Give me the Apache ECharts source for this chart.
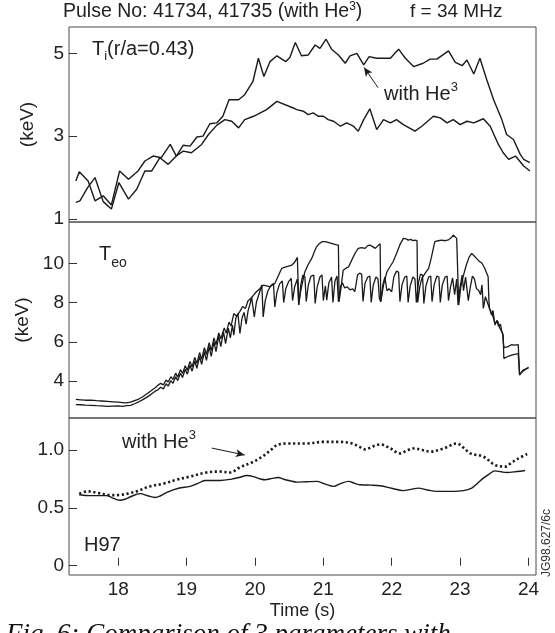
<!DOCTYPE html>
<html>
<head>
<meta charset="utf-8">
<script src="https://cdn.jsdelivr.net/npm/echarts@6/dist/echarts.min.js"></script>
<style>
  html, body { margin: 0; padding: 0; background: #ffffff; overflow: hidden; }
  #chart { width: 555px; height: 633px; }
</style>
</head>
<body>
<div id="chart"></div>
<script>
// ---- Ion temperature Ti(r/a=0.43), keV : [time s, value] ----
const tiWithHe = [
  [17.38,1.40],[17.44,1.44],[17.55,1.75],[17.66,2.00],[17.78,1.42],[17.90,1.24],[18.01,1.88],
  [18.15,1.48],[18.27,1.72],[18.39,2.16],[18.49,2.16],[18.61,2.48],[18.73,2.32],[18.85,2.52],
  [18.95,2.78],[19.05,2.76],[19.15,2.98],[19.24,3.00],[19.34,3.30],[19.44,3.32],[19.53,3.48],
  [19.62,3.88],[19.76,3.88],[19.85,4.00],[19.97,4.32],[20.05,4.88],[20.13,4.44],[20.22,4.80],
  [20.32,4.94],[20.45,4.80],[20.51,4.90],[20.59,5.26],[20.68,4.94],[20.78,4.96],[20.88,5.20],
  [20.95,5.12],[21.04,5.34],[21.12,5.10],[21.22,4.96],[21.32,4.76],[21.39,4.94],[21.49,5.00],
  [21.59,4.72],[21.67,4.92],[21.78,4.88],[21.98,4.88],[22.10,5.10],[22.20,4.88],[22.32,4.68],
  [22.46,4.76],[22.56,4.86],[22.66,4.86],[22.83,5.06],[22.93,4.78],[23.03,4.70],[23.10,4.84],
  [23.20,4.50],[23.29,4.88],[23.39,4.36],[23.49,3.88],[23.61,3.40],[23.68,3.04],[23.78,2.92],
  [23.88,2.56],[23.93,2.44],[24.02,2.36]
];
const tiWithoutHe = [
  [17.38,1.92],[17.43,2.14],[17.56,1.92],[17.66,1.44],[17.78,1.56],[17.90,1.34],[18.02,2.16],
  [18.15,1.96],[18.29,2.16],[18.39,2.40],[18.51,2.52],[18.63,2.48],[18.76,2.80],[18.85,2.52],
  [18.95,2.64],[19.07,2.60],[19.22,2.80],[19.32,3.04],[19.44,3.26],[19.56,3.40],[19.66,3.36],
  [19.76,3.20],[19.85,3.40],[19.98,3.48],[20.17,3.64],[20.32,3.84],[20.56,3.68],[20.61,3.64],
  [20.71,3.60],[20.78,3.52],[20.85,3.56],[20.93,3.48],[21.00,3.48],[21.07,3.40],[21.15,3.36],
  [21.25,3.24],[21.34,3.32],[21.44,3.24],[21.51,3.12],[21.59,3.40],[21.68,3.66],[21.78,3.16],
  [21.88,3.40],[21.98,3.32],[22.07,3.40],[22.17,3.28],[22.34,3.12],[22.44,3.24],[22.61,3.48],
  [22.71,3.44],[22.81,3.32],[22.90,3.40],[23.00,3.28],[23.10,3.36],[23.20,3.32],[23.34,3.42],
  [23.44,3.24],[23.56,2.80],[23.63,2.60],[23.71,2.44],[23.81,2.52],[23.93,2.28],[24.02,2.16]
];

// ---- Central electron temperature Teo, keV : [time s, value] ----
const teWithHe = [
  [17.38,3.06],[17.45,3.04],[17.52,3.02],[17.60,3.03],[17.68,3.00],[17.76,2.98],[17.84,2.96],
  [17.92,2.94],[18.00,2.92],[18.06,2.90],[18.12,2.88],[18.18,2.92],[18.24,3.00],[18.30,3.08],
  [18.36,3.20],[18.42,3.35],[18.48,3.50],[18.54,3.66],[18.58,3.78],[18.62,3.88],[18.66,3.80],
  [18.70,4.05],[18.73,3.95],[18.77,4.22],[18.80,4.08],[18.84,4.40],[18.87,4.20],[18.91,4.58],
  [18.94,4.38],[18.98,4.78],[19.01,4.55],[19.05,5.00],[19.08,4.72],[19.12,5.20],[19.15,4.90],
  [19.19,5.45],[19.22,5.10],[19.26,5.70],[19.29,5.35],[19.33,5.95],[19.36,5.55],[19.40,6.20],
  [19.43,5.85],[19.47,6.45],[19.50,6.15],[19.55,6.70],[19.58,6.45],[19.62,7.00],[19.65,6.80],
  [19.69,7.44],[19.73,7.30],[19.78,7.55],[19.82,7.80],[19.86,7.70],[19.90,8.10],[19.94,8.20],
  [19.98,8.38],[20.02,8.55],[20.07,8.70],[20.12,8.89],[20.17,8.85],[20.22,8.80],[20.29,8.97],
  [20.34,9.35],[20.39,9.74],[20.44,9.80],[20.49,9.85],[20.54,9.91],[20.58,10.05],[20.62,10.30],
  [20.63,10.33],[20.64,7.90],[20.67,8.60],[20.70,9.10],[20.73,9.57],[20.78,9.95],[20.83,10.25],
  [20.87,10.60],[20.90,10.84],[20.94,11.00],[20.98,11.10],[21.03,11.10],[21.08,11.05],[21.13,11.00],
  [21.18,10.95],[21.22,10.93],[21.23,8.04],[21.26,8.80],[21.29,9.65],[21.33,9.75],[21.37,9.82],
  [21.42,10.20],[21.47,10.55],[21.51,10.76],[21.56,10.80],[21.61,10.76],[21.65,10.90],[21.68,10.93],
  [21.72,10.85],[21.76,10.76],[21.80,10.90],[21.83,11.00],[21.84,8.04],[21.88,8.90],[21.93,9.57],
  [21.97,9.80],[22.02,10.08],[22.07,10.50],[22.12,10.95],[22.17,11.27],[22.21,11.25],[22.24,11.18],
  [22.28,11.22],[22.31,11.15],[22.34,11.18],[22.37,11.15],[22.38,8.00],[22.41,8.80],[22.44,9.23],
  [22.49,9.50],[22.54,9.74],[22.58,10.30],[22.63,11.10],[22.68,11.15],[22.73,11.18],[22.78,11.15],
  [22.83,11.20],[22.87,11.30],[22.90,11.44],[22.95,11.27],[22.97,11.20],[22.98,7.87],[23.01,8.80],
  [23.05,9.40],[23.09,9.90],[23.13,10.30],[23.17,10.50],[23.20,10.40],[23.24,10.25],[23.28,10.10],
  [23.32,10.00],[23.36,9.75],[23.41,9.31],[23.42,8.20],[23.43,7.70],[23.47,7.40],[23.51,6.95],
  [23.55,7.05],[23.58,6.70],[23.62,6.45],[23.64,5.70],[23.70,5.75],[23.75,5.85],[23.80,5.83],
  [23.85,5.85],[23.87,4.35],[23.92,4.50],[23.96,4.60],[24.00,4.70]
];
const teWithoutHe = [
  [17.38,2.80],[17.45,2.79],[17.52,2.77],[17.60,2.76],[17.68,2.74],[17.76,2.73],[17.84,2.71],
  [17.92,2.72],[18.00,2.73],[18.06,2.71],[18.12,2.74],[18.18,2.76],[18.24,2.84],[18.30,2.94],
  [18.36,3.05],[18.42,3.18],[18.48,3.32],[18.54,3.48],[18.58,3.55],[18.62,3.68],[18.66,3.60],
  [18.70,3.86],[18.73,3.74],[18.77,4.02],[18.80,3.88],[18.84,4.22],[18.87,4.02],[18.91,4.40],
  [18.94,4.18],[18.98,4.60],[19.01,4.35],[19.05,4.80],[19.08,4.50],[19.12,5.02],[19.15,4.65],
  [19.19,5.25],[19.22,4.85],[19.26,5.50],[19.29,5.05],[19.33,5.75],[19.36,5.25],[19.40,6.00],
  [19.43,5.50],[19.47,6.30],[19.50,5.75],[19.54,6.50],[19.57,5.90],[19.61,6.70],[19.64,6.20],
  [19.67,6.85],[19.69,6.34],[19.72,7.20],[19.75,7.44],[19.78,6.42],[19.81,7.20],[19.84,7.50],
  [19.87,6.90],[19.90,7.60],[19.93,7.95],[19.95,8.29],[19.99,7.27],[20.02,8.00],[20.06,8.45],
  [20.10,8.89],[20.12,7.27],[20.15,8.10],[20.19,8.60],[20.23,8.85],[20.27,8.97],[20.29,7.78],
  [20.32,8.50],[20.36,8.95],[20.40,9.10],[20.42,8.00],[20.45,8.70],[20.49,9.05],[20.53,9.23],
  [20.55,8.10],[20.58,8.80],[20.62,9.20],[20.64,7.87],[20.67,8.90],[20.70,9.40],[20.73,9.30],
  [20.75,8.05],[20.78,8.90],[20.82,9.35],[20.86,9.40],[20.88,7.95],[20.91,8.80],[20.95,9.30],
  [20.98,9.40],[21.00,8.10],[21.03,8.85],[21.05,8.12],[21.08,9.00],[21.12,9.30],[21.14,8.00],
  [21.17,9.10],[21.20,9.35],[21.22,8.04],[21.25,8.80],[21.28,9.00],[21.31,8.75],[21.35,8.80],
  [21.39,8.65],[21.43,8.70],[21.46,8.55],[21.50,9.40],[21.53,9.50],[21.56,9.45],[21.58,8.05],
  [21.61,9.00],[21.65,9.30],[21.68,9.35],[21.70,8.00],[21.73,8.90],[21.77,9.30],[21.80,9.20],
  [21.82,8.20],[21.84,8.04],[21.87,8.90],[21.90,9.30],[21.93,8.60],[21.96,8.70],[22.00,8.55],
  [22.03,9.30],[22.07,9.60],[22.10,9.55],[22.12,8.05],[22.15,8.90],[22.19,9.30],[22.22,9.35],
  [22.24,8.00],[22.27,8.85],[22.31,9.30],[22.34,9.20],[22.36,8.00],[22.39,9.00],[22.42,9.45],
  [22.45,9.40],[22.47,7.95],[22.50,8.85],[22.54,9.30],[22.57,9.35],[22.59,8.05],[22.62,8.90],
  [22.66,9.35],[22.69,9.30],[22.71,8.00],[22.74,8.90],[22.78,9.30],[22.81,9.35],[22.83,8.10],
  [22.86,8.80],[22.89,9.25],[22.92,8.40],[22.95,9.20],[22.97,7.87],[23.00,8.80],[23.03,9.40],
  [23.05,8.60],[23.08,9.30],[23.10,9.40],[23.12,8.10],[23.15,8.80],[23.18,9.35],[23.21,9.20],
  [23.24,8.70],[23.27,8.63],[23.30,8.40],[23.32,8.90],[23.34,7.70],[23.37,8.30],[23.40,8.00],
  [23.43,7.70],[23.46,7.36],[23.48,7.60],[23.51,6.85],[23.54,7.10],[23.56,6.80],[23.59,6.90],
  [23.61,6.51],[23.63,6.34],[23.64,5.15],[23.70,5.25],[23.78,5.35],[23.85,5.40],[23.87,4.30],
  [23.92,4.55],[24.00,4.67]
];

// ---- Confinement factor H97 : [time s, value] ----
const h97WithHe = [
  [17.43,0.623],[17.56,0.643],[17.70,0.630],[17.88,0.610],[18.02,0.612],[18.15,0.625],[18.27,0.643],
  [18.46,0.686],[18.66,0.709],[18.85,0.743],[19.05,0.771],[19.29,0.806],[19.49,0.814],[19.63,0.806],
  [19.78,0.851],[19.98,0.900],[20.10,0.940],[20.17,0.971],[20.25,1.010],[20.32,1.043],[20.46,1.057],
  [20.76,1.057],[21.00,1.071],[21.25,1.071],[21.42,1.057],[21.52,1.030],[21.61,1.006],[21.72,1.030],
  [21.83,1.049],[21.98,1.014],[22.12,0.971],[22.22,0.995],[22.32,1.014],[22.45,1.000],[22.56,0.986],
  [22.76,1.014],[22.95,1.057],[23.05,1.020],[23.15,0.971],[23.34,0.943],[23.51,0.871],[23.66,0.857],
  [23.75,0.890],[23.83,0.920],[23.98,0.966]
];
const h97WithoutHe = [
  [17.43,0.614],[17.59,0.606],[17.83,0.606],[17.92,0.585],[18.02,0.566],[18.10,0.575],[18.17,0.594],
  [18.32,0.623],[18.43,0.605],[18.54,0.590],[18.62,0.605],[18.71,0.634],[18.88,0.670],[19.05,0.686],
  [19.16,0.710],[19.27,0.737],[19.49,0.737],[19.66,0.749],[19.78,0.765],[19.88,0.780],[19.98,0.770],
  [20.08,0.750],[20.15,0.743],[20.25,0.755],[20.34,0.763],[20.42,0.748],[20.51,0.735],[20.61,0.723],
  [20.75,0.726],[20.90,0.729],[21.02,0.708],[21.15,0.686],[21.25,0.710],[21.37,0.729],[21.46,0.712],
  [21.54,0.700],[21.70,0.697],[21.83,0.691],[22.00,0.670],[22.17,0.649],[22.28,0.660],[22.39,0.671],
  [22.52,0.655],[22.66,0.643],[22.85,0.643],[23.05,0.649],[23.17,0.671],[23.25,0.710],[23.34,0.757],
  [23.42,0.790],[23.51,0.820],[23.60,0.812],[23.68,0.806],[23.83,0.814],[23.95,0.823]
];

// ---- Axis ticks ----
const timeTicks = [18, 19, 20, 21, 22, 23, 24];
const tiTicks = [1, 3, 5];
const teTicks = [4, 6, 8, 10];
const h97Ticks = [0, 0.5, 1.0];

const FONT = "'Liberation Sans', Arial, Helvetica, sans-serif";
const INK = '#1a1a1a';
const TEXT = '#222222';
const TIME_MIN = 17.28, TIME_MAX = 24.11;

const chart = echarts.init(document.getElementById('chart'), null, { renderer: 'canvas' });

const grids = [
  { left: 69, top: 27, width: 467, height: 195 },
  { left: 69, top: 222, width: 467, height: 196 },
  { left: 69, top: 418, width: 467, height: 157 }
].map(g => Object.assign(g, { show: true, borderColor: '#4a4a4a', borderWidth: 1, backgroundColor: 'transparent' }));

function xAxisFor(i, showLabels) {
  return {
    type: 'value', gridIndex: i, min: TIME_MIN, max: TIME_MAX,
    axisLine: { show: false },
    splitLine: { show: false },
    axisTick: showLabels
      ? { show: true, inside: true, length: 8, customValues: timeTicks, lineStyle: { color: '#333', width: 1 } }
      : { show: false },
    axisLabel: showLabels
      ? { show: true, customValues: timeTicks, fontFamily: FONT, fontSize: 19, color: TEXT, margin: 5 }
      : { show: false },
    name: showLabels ? 'Time (s)' : '',
    nameLocation: 'middle', nameGap: 27,
    nameTextStyle: { fontFamily: FONT, fontSize: 18, color: TEXT }
  };
}

function yAxisFor(i, min, max, ticks, name, fmt) {
  return {
    type: 'value', gridIndex: i, min: min, max: max,
    axisLine: { show: false },
    splitLine: { show: false },
    axisTick: { show: true, inside: true, length: 8, customValues: ticks, lineStyle: { color: '#333', width: 1 } },
    axisLabel: { show: true, customValues: ticks, fontFamily: FONT, fontSize: 19, color: TEXT, margin: 5, formatter: fmt },
    name: name, nameLocation: 'middle', nameGap: 32,
    nameTextStyle: { fontFamily: FONT, fontSize: 19, color: TEXT }
  };
}

function lineSeries(name, idx, data, extra) {
  return Object.assign({
    name: name, type: 'line', xAxisIndex: idx, yAxisIndex: idx, data: data,
    showSymbol: false, symbol: 'none', silent: true, animation: false,
    lineStyle: { color: INK, width: 1.4 }
  }, extra || {});
}

const arrowStyle = { color: INK, width: 1, type: 'solid' };

function richLabel(x, y, text, big, small, lineH, subAlign) {
  return {
    type: 'text', x: x, y: y, silent: true,
    style: {
      text: text, verticalAlign: 'middle', fill: TEXT,
      rich: {
        a: { fontFamily: FONT, fontSize: big, lineHeight: lineH, fill: TEXT },
        s: { fontFamily: FONT, fontSize: small, lineHeight: small, verticalAlign: subAlign, fill: TEXT }
      }
    }
  };
}

const option = {
  backgroundColor: '#ffffff',
  animation: false,
  grid: grids,
  xAxis: [xAxisFor(0, false), xAxisFor(1, false), xAxisFor(2, true)],
  yAxis: [
    yAxisFor(0, 0.928, 5.635, tiTicks, '(keV)', v => String(v)),
    yAxisFor(1, 2.114, 12.105, teTicks, '(keV)', v => String(v)),
    yAxisFor(2, -0.080, 1.277, h97Ticks, '', v => (v === 0 ? '0' : v.toFixed(1)))
  ],
  series: [
    lineSeries('Ti with He3', 0, tiWithHe, {
      markLine: {
        silent: true, animation: false, symbol: ['none', 'arrow'], symbolSize: [6, 9],
        label: { show: false }, lineStyle: arrowStyle,
        data: [[{ coord: [21.80, 4.17] }, { coord: [21.595, 4.66] }]]
      }
    }),
    lineSeries('Ti', 0, tiWithoutHe),
    lineSeries('Teo with He3', 1, teWithHe, { lineStyle: { color: INK, width: 1.3 } }),
    lineSeries('Teo', 1, teWithoutHe, { lineStyle: { color: INK, width: 1.3 } }),
    lineSeries('H97 with He3', 2, h97WithHe, {
      smooth: 0.35,
      lineStyle: { color: INK, width: 2.6, type: [2.2, 2.6], cap: 'butt' },
      markLine: {
        silent: true, animation: false, symbol: ['none', 'arrow'], symbolSize: [6, 9],
        label: { show: false }, lineStyle: arrowStyle,
        data: [[{ coord: [19.37, 1.017] }, { coord: [19.85, 0.957] }]]
      }
    }),
    lineSeries('H97', 2, h97WithoutHe, { smooth: 0.35, lineStyle: { color: INK, width: 1.4 } })
  ],
  graphic: [
    richLabel(63, 12, '{a|Pulse No: 41734, 41735 (with He}{s|3}{a|)}', 19.5, 12, 22, 'top'),
    {
      type: 'text', x: 410, y: 12, silent: true,
      style: { text: 'f = 34 MHz', font: '19px ' + FONT, fill: TEXT, verticalAlign: 'middle' }
    },
    richLabel(92, 49, '{a|T}{s|i}{a|(r/a=0.43)}', 20, 13, 28, 'bottom'),
    richLabel(384, 94, '{a|with He}{s|3}', 20, 13, 26, 'top'),
    richLabel(99, 254, '{a|T}{s|eo}', 20, 14, 32, 'bottom'),
    richLabel(122, 442, '{a|with He}{s|3}', 20, 13, 26, 'top'),
    {
      type: 'text', x: 84, y: 545, silent: true,
      style: { text: 'H97', font: '20px ' + FONT, fill: TEXT, verticalAlign: 'middle' }
    },
    {
      type: 'text', x: 547, y: 543, rotation: Math.PI / 2, silent: true,
      style: { text: 'JG98.627/6c', font: '12px ' + FONT, fill: '#333', align: 'center', verticalAlign: 'middle' }
    },
    {
      type: 'text', x: 6, y: 621, silent: true,
      style: {
        text: 'Fig. 6: Comparison of 3 parameters with',
        font: 'italic 27px "Liberation Serif", "Times New Roman", serif',
        fill: '#111', verticalAlign: 'top'
      }
    }
  ]
};

chart.setOption(option);
</script>
</body>
</html>
